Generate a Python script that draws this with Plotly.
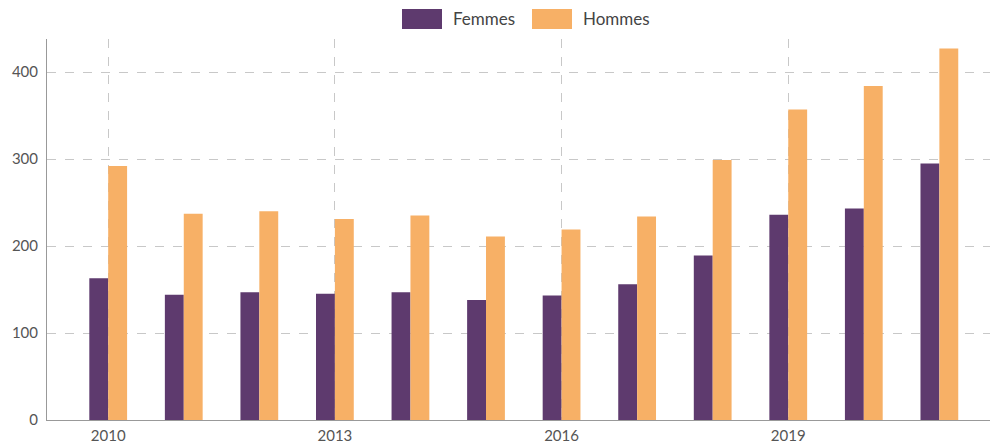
import plotly.graph_objects as go

years = list(range(2010, 2022))
femmes = [163, 144, 147, 145, 147, 138, 143, 156, 189, 236, 243, 295]
hommes = [292, 237, 240, 231, 235, 211, 219, 234, 299, 357, 384, 427]
y_ticks = [0, 100, 200, 300, 400]
x_ticks = [2010, 2013, 2016, 2019]

purple = "#5e3a6e"
orange = "#f7b066"
font_fam = "Lato, 'Open Sans', sans-serif"
text_col = "#555555"

W, H = 990, 445
ML, MR, MT, MB = 47, 0, 39, 25
PW, PH = W - ML - MR, H - MT - MB

fig = go.Figure()
fig.add_trace(go.Bar(x=years, y=femmes, name="Femmes", marker=dict(color=purple, line=dict(width=0))))
fig.add_trace(go.Bar(x=years, y=hommes, name="Hommes", marker=dict(color=orange, line=dict(width=0))))

fig.update_layout(
    width=W, height=H,
    margin=dict(l=ML, r=MR, t=MT, b=MB, autoexpand=False),
    paper_bgcolor="white", plot_bgcolor="white",
    barmode="group", bargap=0.5, bargroupgap=0,
    showlegend=False,
    font=dict(family=font_fam, size=15, color=text_col),
)
fig.update_xaxes(
    range=[2009.19, 2021.67],
    tickvals=x_ticks, ticktext=[str(v) for v in x_ticks],
    showgrid=True, gridcolor="#c8c8c8", griddash="dash", gridwidth=1,
    showline=True, linecolor="#999999", linewidth=1,
    ticks="", tickfont=dict(size=15, color=text_col),
    ticklabelstandoff=2,
    zeroline=False,
)
fig.update_yaxes(
    range=[0, 438],
    tickvals=y_ticks,
    showgrid=True, gridcolor="#c8c8c8", griddash="dash", gridwidth=1,
    showline=True, linecolor="#999999", linewidth=1,
    ticks="", tickfont=dict(size=15, color=text_col),
    ticklabelstandoff=5,
    zeroline=False,
)

# custom legend (swatches and labels)
legend_items = [("Femmes", purple, 402), ("Hommes", orange, 532)]
for name, col, x0 in legend_items:
    fig.add_shape(type="rect", xref="paper", yref="paper",
                  x0=(x0 - ML) / PW, x1=(x0 + 40 - ML) / PW,
                  y0=(H - MB - 29) / PH, y1=(H - MB - 9) / PH,
                  fillcolor=col, line=dict(width=0), layer="above")
    fig.add_annotation(xref="paper", yref="paper",
                       x=(x0 + 49 - ML) / PW, y=(H - MB - 19) / PH,
                       text=name, showarrow=False, xanchor="left", yanchor="middle",
                       font=dict(size=17, color="#444444", family=font_fam))

fig.write_html("out.html", config={"displayModeBar": False},
               post_script="document.body.style.margin='0';document.body.style.overflow='hidden';")
